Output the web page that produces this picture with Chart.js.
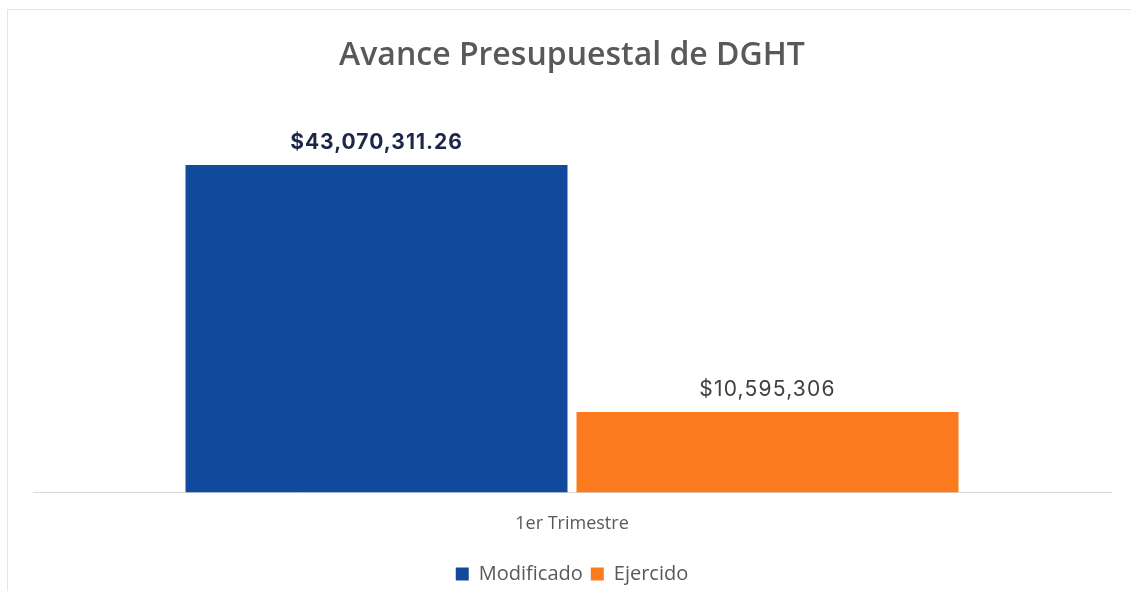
<!DOCTYPE html>
<html>
<head>
<meta charset="utf-8">
<script src="https://cdn.jsdelivr.net/npm/chart.js@4/dist/chart.umd.min.js"></script>
<style>
  html, body { margin: 0; padding: 0; background: #ffffff; }
  #wrap { width: 1131px; height: 591px; position: relative; }
</style>
</head>
<body>
<div id="wrap"><canvas id="c" width="1131" height="591"></canvas></div>
<script>
const categories = ["1er Trimestre"];
const seriesNames = ["Modificado", "Ejercido"];
const modificado = [43070311.26];
const ejercido = [10595306];
const valueLabels = [["$43,070,311.26"], ["$10,595,306"]];
const chartTitle = "Avance Presupuestal de DGHT";

const barColors = ["#114a9c", "#fc7a1e"];
const labelStyles = [
  { color: "#1b2747", font: "bold 21px Inter, 'Open Sans', sans-serif", spacing: "1px" },
  { color: "#404040", font: "normal 21px Inter, 'Open Sans', sans-serif", spacing: "1.2px" }
];

const frame = {
  id: "frame",
  beforeDraw(chart) {
    const ctx = chart.ctx;
    ctx.save();
    ctx.fillStyle = "#ffffff";
    ctx.fillRect(0, 0, chart.width, chart.height);
    ctx.strokeStyle = "#e6e6e6";
    ctx.lineWidth = 1;
    ctx.strokeRect(7.5, 9.5, chart.width + 20, chart.height + 20);
    ctx.restore();
  }
};

const barLabels = {
  id: "barLabels",
  afterDatasetsDraw(chart) {
    const ctx = chart.ctx;
    ctx.save();
    ctx.textAlign = "center";
    ctx.textBaseline = "middle";
    chart.data.datasets.forEach((ds, di) => {
      const meta = chart.getDatasetMeta(di);
      meta.data.forEach((el, i) => {
        ctx.fillStyle = labelStyles[di].color;
        ctx.font = labelStyles[di].font;
        ctx.letterSpacing = labelStyles[di].spacing;
        ctx.fillText(valueLabels[di][i], el.x, el.y - 22);
      });
    });
    ctx.restore();
  }
};

new Chart(document.getElementById("c"), {
  type: "bar",
  data: {
    labels: categories,
    datasets: [
      { label: seriesNames[0], data: modificado, backgroundColor: barColors[0] },
      { label: seriesNames[1], data: ejercido, backgroundColor: barColors[1] }
    ]
  },
  options: {
    responsive: false,
    animation: false,
    devicePixelRatio: 1,
    categoryPercentage: 0.7254,
    barPercentage: 0.977,
    layout: { padding: { left: 33, right: 20, top: 0, bottom: -3 } },
    scales: {
      x: {
        grid: { display: false, drawTicks: false },
        border: { display: true, color: "#d9d9d9", width: 1 },
        ticks: {
          color: "#595959",
          padding: 21,
          font: { family: "'Open Sans', sans-serif", size: 18 }
        }
      },
      y: {
        display: false,
        min: 0,
        max: 50000000
      }
    },
    plugins: {
      title: {
        display: true,
        text: chartTitle,
        color: "#595959",
        font: { family: "'Open Sans', sans-serif", size: 32, weight: "600" },
        padding: { top: 37, bottom: 37 }
      },
      legend: {
        display: true,
        position: "bottom",
        labels: {
          color: "#595959",
          boxWidth: 13,
          boxHeight: 13,
          padding: 8,
          font: { family: "'Open Sans', sans-serif", size: 20 }
        }
      },
      tooltip: { enabled: false }
    }
  },
  plugins: [frame, barLabels]
});
</script>
</body>
</html>
